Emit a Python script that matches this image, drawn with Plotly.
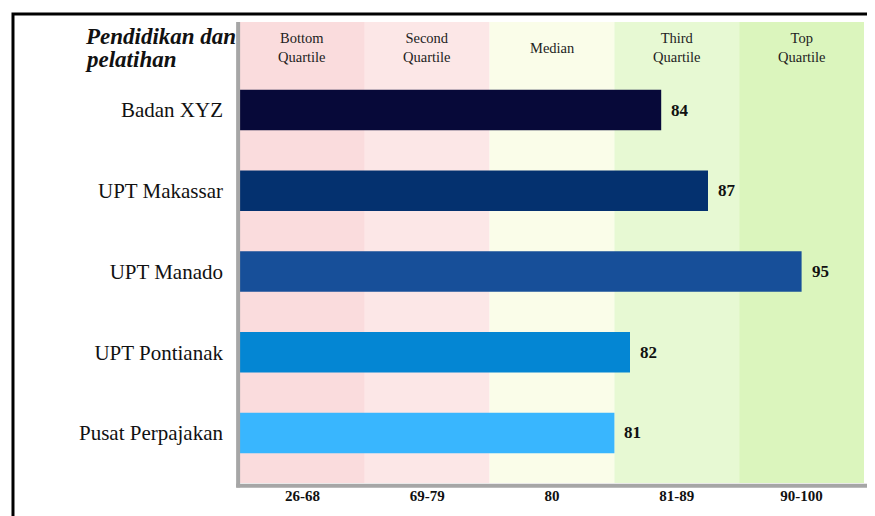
import numpy as np
import plotly.graph_objects as go

units = ["Badan XYZ", "UPT Makassar", "UPT Manado", "UPT Pontianak", "Pusat Perpajakan"]
scores = [84, 87, 95, 82, 81]
bar_colors = ["#070939", "#04316f", "#174f99", "#0486d3", "#39b6fe"]

band_labels = ["Bottom<br>Quartile", "Second<br>Quartile", "Median", "Third<br>Quartile", "Top<br>Quartile"]
band_ranges = ["26-68", "69-79", "80", "81-89", "90-100"]
band_colors = ["#fadcdd", "#fce7e7", "#fafde9", "#e7f9d3", "#dbf5bd"]

# score -> position on the quartile scale (each band has the same width)
edges_in = [26, 68, 79, 81, 89, 90, 100]
edges_out = [0, 1, 2, 3, 4, 4, 5]
pos = np.interp(scores, edges_in, edges_out)
rows = list(range(len(units)))

serif = "Liberation Serif"

fig = go.Figure()
fig.add_trace(go.Bar(
    x=pos, y=rows, orientation="h", width=0.5,
    marker=dict(color=bar_colors, line=dict(width=0)),
    hoverinfo="skip", showlegend=False,
))

shapes = []
for i, c in enumerate(band_colors):
    shapes.append(dict(type="rect", xref="x", yref="paper", x0=i, x1=i + 1, y0=0, y1=1,
                       fillcolor=c, line_width=0, layer="below"))
# grey axis lines
shapes.append(dict(type="line", xref="paper", yref="paper", x0=-0.003, x1=-0.003, y0=-0.01, y1=1,
                   line=dict(color="#a6a6a6", width=4)))
shapes.append(dict(type="line", xref="paper", yref="paper", x0=-0.006, x1=1.05, y0=-0.006, y1=-0.006,
                   line=dict(color="#a6a6a6", width=4)))
# black frame
shapes.append(dict(type="path", xref="paper", yref="paper",
                   path="M -0.3638,-0.2 L -0.3638,1.0174 L 1.05,1.0174",
                   line=dict(color="black", width=3)))

annotations = []
for i, t in enumerate(band_labels):
    annotations.append(dict(x=i + 0.5, y=-0.77, xref="x", yref="y", text=t, showarrow=False,
                            font=dict(family=serif, size=14.5, color="#222"), align="center"))
for p, r, s in zip(pos, rows, scores):
    annotations.append(dict(x=p, y=r, xref="x", yref="y", text="<b>%d</b>" % s, showarrow=False,
                            xanchor="left", xshift=8, font=dict(family=serif, size=17, color="#111")))
# title, two lines placed separately to keep them tight
for t, yy in [("Pendidikan dan", 0.969), ("pelatihan", 0.918)]:
    annotations.append(dict(x=-0.2516, y=yy, xref="paper", yref="paper",
                            text="<b><i>%s</i></b>" % t, showarrow=False,
                            xanchor="left", yanchor="middle",
                            font=dict(family=serif, size=23, color="#111")))

fig.update_layout(
    width=875, height=516,
    margin=dict(l=232, r=19, t=14, b=41),
    paper_bgcolor="white", plot_bgcolor="white",
    shapes=shapes, annotations=annotations,
    xaxis=dict(range=[0, 5], tickvals=[i + 0.5 for i in range(5)],
               ticktext=["<b>%s</b>" % t for t in band_ranges],
               tickfont=dict(family=serif, size=15, color="#111"),
               ticklabelstandoff=2,
               showgrid=False, zeroline=False, showline=False, ticks="", fixedrange=True),
    yaxis=dict(range=[4.62, -1.09], tickvals=rows, ticktext=units,
               tickfont=dict(family=serif, size=21, color="#111"),
               ticklabelstandoff=16,
               showgrid=False, zeroline=False, showline=False, ticks="", fixedrange=True),
)

fig.write_html("out.html")
